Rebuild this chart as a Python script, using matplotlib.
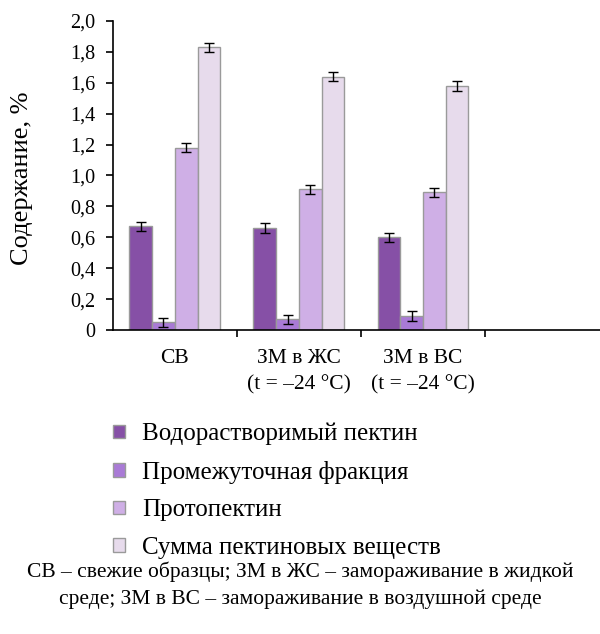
import numpy as np
import matplotlib.pyplot as plt
from matplotlib.patches import Patch

plt.rcParams['font.family'] = ['Liberation Serif', 'DejaVu Serif']

# образцы и фракции пектина
categories = ['СВ', 'ЗМ в ЖС\n(t = –24 °C)', 'ЗМ в ВС\n(t = –24 °C)']
series = ['Водорастворимый пектин', 'Промежуточная фракция',
          'Протопектин', 'Сумма пектиновых веществ']
values = [
    [0.67, 0.66, 0.60],
    [0.05, 0.07, 0.09],
    [1.18, 0.91, 0.89],
    [1.83, 1.64, 1.58],
]
errors = [
    [0.03, 0.03, 0.03],
    [0.03, 0.03, 0.03],
    [0.03, 0.03, 0.03],
    [0.03, 0.03, 0.03],
]
colors = ['#8650A6', '#A97AD6', '#CFAFE6', '#E7DBEC']
yticks = [0, 0.2, 0.4, 0.6, 0.8, 1.0, 1.2, 1.4, 1.6, 1.8, 2.0]

fig = plt.figure(figsize=(6, 6.34), dpi=100)
ax = fig.add_axes([0.188, 0.4795, 0.827, 0.4874])

x = np.arange(len(categories)) + 0.5
w = 0.183
for i, name in enumerate(series):
    ax.bar(x + (i - 1.5) * w, values[i], w, color=colors[i],
           edgecolor='#9A9A9A', linewidth=1.0, zorder=2)
    ax.errorbar(x + (i - 1.5) * w, values[i], yerr=errors[i], fmt='none',
                ecolor='black', elinewidth=1.0, capsize=3.3, capthick=1.0, zorder=3)

ax.set_xlim(0, 4)
ax.set_ylim(0, 2.0)
ax.set_yticks(yticks)
ax.set_yticklabels(['0' if t == 0 else f'{t:.1f}'.replace('.', ',') for t in yticks],
                   fontsize=14.5)
ax.set_xticks([1, 2, 3])
ax.set_xticklabels([])
ax.tick_params(axis='x', direction='out', length=5, width=1.2)
ax.tick_params(axis='y', direction='out', length=5, width=1.2, pad=7.5)
for i, c in enumerate(categories):
    ax.text(x[i], -0.12, c, ha='center', va='top', fontsize=15.5,
            linespacing=1.5)

ax.spines['top'].set_visible(False)
ax.spines['right'].set_visible(False)
ax.spines['left'].set_linewidth(1.2)
ax.spines['bottom'].set_linewidth(1.2)
ax.set_ylabel('Содержание, %', fontsize=19)
ax.yaxis.set_label_coords(-0.16, 0.49)

handles = [Patch(facecolor=colors[i], edgecolor='#9A9A9A', label=series[i])
           for i in range(len(series))]
fig.legend(handles=handles, loc='upper left', bbox_to_anchor=(0.188, 0.333),
           frameon=False, fontsize=18, handlelength=0.48, handleheight=0.48,
           handletextpad=0.68, labelspacing=0.62, borderpad=0, borderaxespad=0)

fig.text(0.5, 0.114, 'СВ – свежие образцы; ЗМ в ЖС – замораживание в жидкой\n'
         'среде; ЗМ в ВС – замораживание в воздушной среде',
         ha='center', va='top', fontsize=15.5, linespacing=1.5)

fig.savefig('out.png', dpi=100)
